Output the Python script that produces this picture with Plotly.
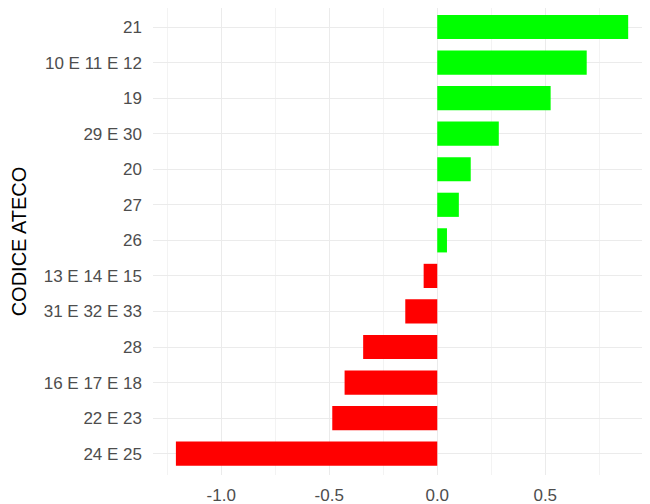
import plotly.graph_objects as go

# CODICI ATECO (dal basso verso l'alto)
codici = ['24 E 25', '22 E 23', '16 E 17 E 18', '28', '31 E 32 E 33', '13 E 14 E 15',
          '26', '27', '20', '29 E 30', '19', '10 E 11 E 12', '21']
valori = [-1.21, -0.486, -0.429, -0.343, -0.148, -0.063,
          0.045, 0.10, 0.155, 0.285, 0.525, 0.692, 0.884]

# etichette asse x
tick_x = [-1.0, -0.5, 0.0, 0.5]
tick_x_text = ['-1.0', '-0.5', '0.0', '0.5']

colori = ['#FF0000' if v < 0 else '#00FF00' for v in valori]

fig = go.Figure(go.Bar(
    x=valori,
    y=codici,
    orientation='h',
    marker=dict(color=colori, line=dict(width=0)),
    width=0.68,
    hoverinfo='x+y'
))

# la pagina html ha 8px di margine sul body
fig.update_layout(
    width=642, height=496,
    margin=dict(l=145, r=0, t=0, b=29),
    plot_bgcolor='white',
    paper_bgcolor='white',
    showlegend=False,
    font=dict(family='Liberation Sans, Arial, sans-serif', size=17, color='#4d4d4d'),
)

fig.update_xaxes(
    range=[-1.316, 0.985],
    tickvals=tick_x, ticktext=tick_x_text,
    showgrid=True, gridcolor='#ebebeb', gridwidth=1,
    minor=dict(dtick=0.25, tick0=0, showgrid=True, gridcolor='#f3f3f3', gridwidth=0.6),
    zeroline=False,
    showline=False,
    ticks='',
    automargin=False,
    ticklabelstandoff=8,
    tickfont=dict(size=17, color='#4d4d4d'),
)

fig.update_yaxes(
    type='category',
    categoryorder='array', categoryarray=codici,
    range=[-0.6, 12.535],
    showgrid=True, gridcolor='#ebebeb', gridwidth=1,
    zeroline=False,
    showline=False,
    ticks='',
    automargin=False,
    ticklabelstandoff=10,
    title=dict(text='CODICE ATECO', font=dict(size=20, color='black'), standoff=17),
    tickfont=dict(size=17, color='#4d4d4d'),
)

fig.write_html('out.html')
